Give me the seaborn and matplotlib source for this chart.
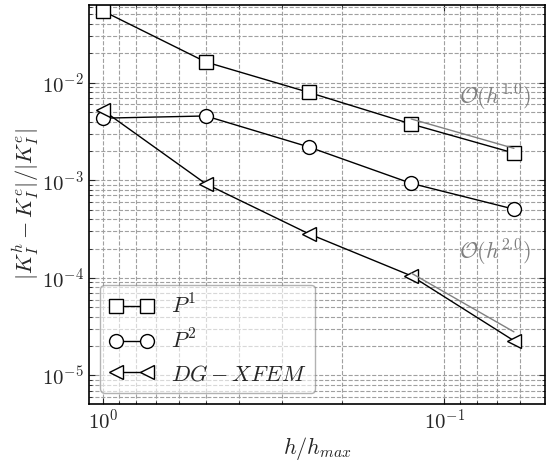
import numpy as np
import pandas as pd
import matplotlib
matplotlib.use("Agg")
import matplotlib.pyplot as plt
import seaborn as sns

# mesh sizes
h = [1.0, 0.5, 0.25, 0.125, 0.0625]

# relative errors
err_p1 = [0.0542, 0.0163, 0.00797, 0.00377, 0.0019]
err_p2 = [0.00433, 0.00456, 0.00220, 0.00093, 0.000506]
err_dg = [0.0052, 0.00092, 0.000284, 0.000105, 0.0000227]

labels = [r'$P^1$', r'$P^2$', r'$DG-XFEM$']
markers = ['s', 'o', '<']

sns.set_style("white")
plt.rcParams['font.family'] = 'serif'
plt.rcParams['font.serif'] = ['cmr10', 'DejaVu Serif']
plt.rcParams['mathtext.fontset'] = 'cm'
plt.rcParams['axes.formatter.use_mathtext'] = True

fig = plt.figure(figsize=(5.46, 4.62), dpi=100)
ax = fig.add_axes([0.163, 0.1255, 0.835, 0.8635])

for err, lab, mk in zip([err_p1, err_p2, err_dg], labels, markers):
    df = pd.DataFrame({'h': h, 'err': err})
    sns.lineplot(data=df, x='h', y='err', ax=ax, color='black', lw=1,
                 marker=mk, markersize=10, markerfacecolor='white',
                 markeredgecolor='black', markeredgewidth=1, label=lab)

# convergence slope guides
h_ref = np.array([0.125, 0.0625])
ax.plot(h_ref, 0.00425 * (h_ref / 0.125) ** 1.0, color='gray', lw=1)
ax.plot(h_ref, 1.12e-4 * (h_ref / 0.125) ** 2.0, color='gray', lw=1)
ax.text(0.071, 0.0049, r'$\mathcal{O}(h^{1.0})$', color='gray', fontsize=16,
        ha='center', va='bottom')
ax.text(0.071, 1.25e-4, r'$\mathcal{O}(h^{2.0})$', color='gray', fontsize=16,
        ha='center', va='bottom')

ax.set_xscale('log')
ax.set_yscale('log')
ax.set_xlim(1.1, 0.0507)
ax.set_ylim(5.1e-6, 0.0624)

ax.grid(True, which='both', ls='--', color='#a0a0a0', lw=0.8)
ax.tick_params(axis='both', which='both', direction='in', top=True,
               left=True, bottom=True, right=True)
ax.tick_params(axis='both', which='major', labelsize=15, length=4)
ax.tick_params(axis='both', which='minor', length=2)
for s in ax.spines.values():
    s.set_color('black')
    s.set_linewidth(1.2)

ax.set_xlabel(r'$h/h_{max}$', fontsize=16, labelpad=1)
ax.set_ylabel(r'$|K_I^h - K_I^e|/|K_I^e|$', fontsize=16, labelpad=1)

ax.legend(loc='lower left', numpoints=2, fontsize=16, framealpha=0.6,
          edgecolor='gray', fancybox=True, handlelength=2.0)

fig.savefig('out.png', dpi=100)
